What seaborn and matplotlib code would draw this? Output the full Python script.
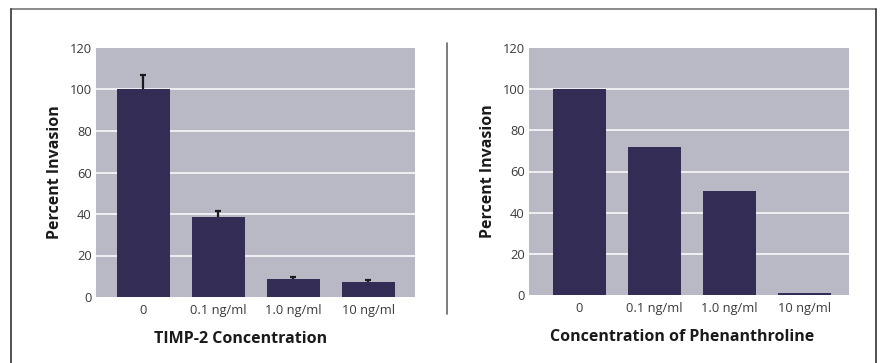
import matplotlib
matplotlib.use("Agg")
import matplotlib.pyplot as plt
from matplotlib.lines import Line2D
import seaborn as sns

# data
doses = ["0", "0.1 ng/ml", "1.0 ng/ml", "10 ng/ml"]
timp2_values = [100, 38.5, 8.7, 7.2]
timp2_err = [7.0, 3.0, 1.1, 0.8]
phen_values = [100, 72, 50.5, 1.2]

bar_color = "#332d55"
bg_color = "#b8b9c4"

sns.set_style("white")
plt.rcParams["font.family"] = ["Open Sans", "DejaVu Sans"]

fig = plt.figure(figsize=(8.84, 3.63), dpi=100)
ax1 = fig.add_axes([96/884, 66/363, 319/884, 249/363])
ax2 = fig.add_axes([529/884, 67.7/363, 320/884, 247.6/363])


def style_axis(ax, xlabel, xlim, xlab_x):
    ax.set_facecolor(bg_color)
    for s in ax.spines.values():
        s.set_visible(False)
    ax.set_ylim(0, 120)
    ax.set_yticks(range(0, 121, 20))
    ax.set_xlim(*xlim)
    ax.set_axisbelow(True)
    ax.yaxis.grid(True, color="white", linewidth=1.1)
    gl = ax.yaxis.get_gridlines()
    gl[0].set_visible(False)
    gl[-1].set_visible(False)
    ax.tick_params(axis="both", length=0, labelsize=9.3, colors="#3a3a3a")
    ax.tick_params(axis="y", pad=3)
    ax.tick_params(axis="x", pad=5)
    ax.set_ylabel("Percent Invasion", fontsize=11.5, fontweight="bold",
                  color="#1a1a1a", labelpad=5)
    ax.set_xlabel(xlabel, fontsize=11.5, fontweight="bold", color="#1a1a1a")
    ax.xaxis.set_label_coords(xlab_x, -0.135)


sns.barplot(x=doses, y=timp2_values, color=bar_color, saturation=1,
            width=0.71, linewidth=0, ax=ax1)
eb = ax1.errorbar(range(len(doses)), timp2_values,
                  yerr=[[0] * len(timp2_err), timp2_err], fmt="none",
                  ecolor="#1a1a1a", elinewidth=1.6, capsize=2.5, capthick=1.6)
eb.lines[1][0].set_visible(False)  # keep only the upper caps
style_axis(ax1, "TIMP-2 Concentration", (-0.633, 3.62), 0.454)

sns.barplot(x=doses, y=phen_values, color=bar_color, saturation=1,
            width=0.71, linewidth=0, ax=ax2)
style_axis(ax2, "Concentration of Phenanthroline", (-0.67, 3.59), 0.478)


# outer frame and divider
def fig_line(x, y, **kw):
    fig.add_artist(Line2D([v / 884 for v in x], [1 - v / 363 for v in y],
                          transform=fig.transFigure, **kw))


fig_line([10.5, 875.5], [8.5, 8.5], color="#777777", linewidth=1.2)
fig_line([10.5, 10.5], [8.5, 363], color="#333333", linewidth=1.2)
fig_line([875.5, 875.5], [8.5, 363], color="#333333", linewidth=1.2)
fig_line([447, 447], [43, 314], color="#666666", linewidth=1.2)

fig.savefig("out.png", dpi=100)
